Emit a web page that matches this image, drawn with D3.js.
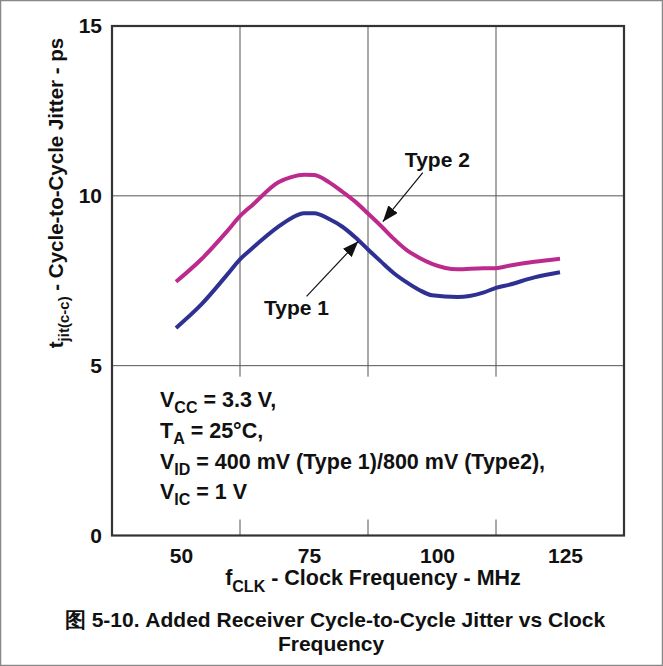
<!DOCTYPE html>
<html lang="en">
<head>
<meta charset="utf-8">
<script src="https://d3js.org/d3.v7.min.js"></script>
<style>
  body { margin: 0; background: #fff; }
  text { font-family: "Liberation Sans", Arial, Helvetica, sans-serif; font-weight: bold; fill: #111; }
</style>
</head>
<body>
<script>
// data
var freq  = [50, 55, 60, 62.5, 65, 70, 72.5, 75, 77, 80, 82.5, 85, 87.5, 90, 92.5, 95, 97.5, 100, 105, 110, 112.5, 115, 120, 125];
var type1 = [6.11, 6.81, 7.68, 8.13, 8.47, 9.09, 9.34, 9.49, 9.49, 9.31, 9.09, 8.78, 8.42, 8.07, 7.73, 7.46, 7.23, 7.07, 7.02, 7.15, 7.29, 7.38, 7.60, 7.75];
var type2 = [7.47, 8.14, 8.96, 9.40, 9.74, 10.40, 10.55, 10.62, 10.61, 10.39, 10.12, 9.83, 9.48, 9.12, 8.74, 8.41, 8.18, 8.00, 7.84, 7.87, 7.87, 7.94, 8.06, 8.15];
var xTicks = [50, 75, 100, 125];
var yTicks = [0, 5, 10, 15];
var xGrid = [62.5, 87.5, 112.5];
var yGrid = [5, 10];

var width = 663, height = 666;
var pLeft = 112, pRight = 624, pTop = 26, pBottom = 535.5;

var svg = d3.select("body").append("svg")
    .attr("width", width)
    .attr("height", height);

// outer border of the figure
svg.append("rect")
    .attr("x", 0.5).attr("y", 0.5)
    .attr("width", width - 1).attr("height", height - 1)
    .attr("fill", "none").attr("stroke", "#888").attr("stroke-width", 1.5);

var x = d3.scaleLinear().domain([37.5, 137.5]).range([pLeft, pRight]);
var y = d3.scaleLinear().domain([0, 15]).range([pBottom, pTop]);

// grid
svg.selectAll(".hgrid").data(yGrid).enter().append("line")
    .attr("x1", pLeft).attr("x2", pRight)
    .attr("y1", function (d) { return y(d); })
    .attr("y2", function (d) { return y(d); })
    .attr("stroke", "#555").attr("stroke-width", 1);

svg.selectAll(".vgrid").data(xGrid).enter().append("line")
    .attr("x1", function (d) { return x(d); })
    .attr("x2", function (d) { return x(d); })
    .attr("y1", pTop).attr("y2", y(5) + 11)
    .attr("stroke", "#555").attr("stroke-width", 1);

svg.selectAll(".vtick").data(xGrid).enter().append("line")
    .attr("x1", function (d) { return x(d); })
    .attr("x2", function (d) { return x(d); })
    .attr("y1", pBottom - 16).attr("y2", pBottom)
    .attr("stroke", "#555").attr("stroke-width", 1);

// frame
svg.append("rect")
    .attr("x", pLeft).attr("y", pTop)
    .attr("width", pRight - pLeft).attr("height", pBottom - pTop)
    .attr("fill", "none").attr("stroke", "#333").attr("stroke-width", 2.2);

// axes
var xAxis = svg.append("g")
    .attr("transform", "translate(0," + pBottom + ")")
    .call(d3.axisBottom(x).tickValues(xTicks).tickSize(0).tickPadding(13));
xAxis.select(".domain").remove();
xAxis.selectAll("text")
    .attr("dx", 5)
    .style("font-size", "21px")
    .style("font-family", "'Liberation Sans', Arial, sans-serif")
    .style("font-weight", "bold")
    .attr("fill", "#111");

var yAxis = svg.append("g")
    .attr("transform", "translate(" + pLeft + ",0)")
    .call(d3.axisLeft(y).tickValues(yTicks).tickSize(0).tickPadding(10));
yAxis.select(".domain").remove();
yAxis.selectAll("text")
    .style("font-size", "21px")
    .style("font-family", "'Liberation Sans', Arial, sans-serif")
    .style("font-weight", "bold")
    .attr("fill", "#111");

// curves
var line = d3.line()
    .x(function (d) { return x(d[0]); })
    .y(function (d) { return y(d[1]); })
    .curve(d3.curveMonotoneX);

svg.append("path")
    .datum(d3.zip(freq, type2))
    .attr("d", line)
    .attr("fill", "none").attr("stroke", "#BC2A8D").attr("stroke-width", 4);

svg.append("path")
    .datum(d3.zip(freq, type1))
    .attr("d", line)
    .attr("fill", "none").attr("stroke", "#2E3192").attr("stroke-width", 4);

// arrows + labels
svg.append("defs").append("marker")
    .attr("id", "arrow")
    .attr("markerUnits", "userSpaceOnUse")
    .attr("markerWidth", 16).attr("markerHeight", 12)
    .attr("refX", 16).attr("refY", 6)
    .attr("orient", "auto")
    .append("path")
    .attr("d", "M0,0 L16,6 L0,12 Z")
    .attr("fill", "#111");

var notes = [
    { label: "Type 2", tx: 94.7, ty: 10.86, x1: 98.2, y1: 10.68, x2: 90.4, y2: 9.24 },
    { label: "Type 1", tx: 67.2, ty: 6.50, x1: 75.5, y1: 7.04, x2: 85.6, y2: 8.66 }
];

notes.forEach(function (n) {
    svg.append("line")
        .attr("x1", x(n.x1)).attr("y1", y(n.y1))
        .attr("x2", x(n.x2)).attr("y2", y(n.y2))
        .attr("stroke", "#111").attr("stroke-width", 1.2)
        .attr("marker-end", "url(#arrow)");
    svg.append("text")
        .attr("x", x(n.tx)).attr("y", y(n.ty))
        .style("font-size", "21px")
        .text(n.label);
});

// test conditions
var cond = svg.append("g").attr("transform", "translate(160,0)");
var condLines = [
    { base: "V", sub: "CC", rest: " = 3.3 V,", yy: 407 },
    { base: "T", sub: "A", rest: " = 25°C,", yy: 438 },
    { base: "V", sub: "ID", rest: " = 400 mV (Type 1)/800 mV (Type2),", yy: 469 },
    { base: "V", sub: "IC", rest: " = 1 V", yy: 499 }
];
condLines.forEach(function (c) {
    var t = cond.append("text").attr("x", 0).attr("y", c.yy).style("font-size", "21.5px");
    t.append("tspan").text(c.base);
    t.append("tspan").attr("dy", 6).style("font-size", "16px").text(c.sub);
    t.append("tspan").attr("dy", -6).text(c.rest);
});

// axis titles
var xt = svg.append("text")
    .attr("x", 373).attr("y", 585)
    .attr("text-anchor", "middle")
    .style("font-size", "21.5px");
xt.append("tspan").text("f");
xt.append("tspan").attr("dy", 7).style("font-size", "16px").text("CLK");
xt.append("tspan").attr("dy", -7).text(" - Clock Frequency - MHz");

var yt = svg.append("text")
    .attr("transform", "translate(63,193) rotate(-90)")
    .attr("text-anchor", "middle")
    .style("font-size", "20.5px");
yt.append("tspan").text("t");
yt.append("tspan").attr("dy", 6).style("font-size", "15px").text("jit(c-c)");
yt.append("tspan").attr("dy", -6).text(" - Cycle-to-Cycle Jitter - ps");

// caption
svg.append("text")
    .attr("x", 335).attr("y", 627)
    .attr("text-anchor", "middle")
    .style("font-size", "21px")
    .text("图 5-10. Added Receiver Cycle-to-Cycle Jitter vs Clock");
svg.append("text")
    .attr("x", 331).attr("y", 651)
    .attr("text-anchor", "middle")
    .style("font-size", "21px")
    .text("Frequency");
</script>
</body>
</html>
